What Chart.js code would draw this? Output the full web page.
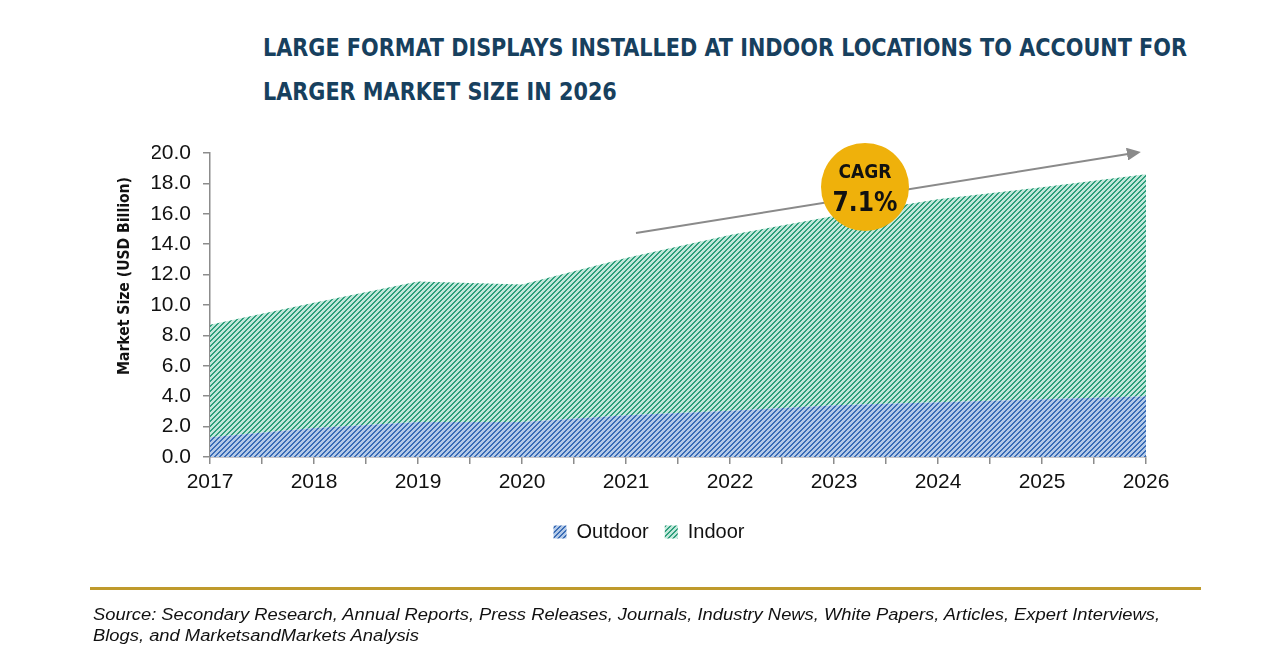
<!DOCTYPE html>
<html>
<head>
<meta charset="utf-8">
<script src="https://cdn.jsdelivr.net/npm/chart.js@4.4.1/dist/chart.umd.min.js"></script>
<style>
  html, body { margin: 0; padding: 0; background: #fff; }
  body { width: 1280px; height: 670px; position: relative; overflow: hidden; font-family: "Liberation Sans", Arial, sans-serif; }
  .line { position: absolute; white-space: nowrap; transform-origin: 0 0; }
  .ttl { left: 263px; font-family: "DejaVu Sans Condensed", "Liberation Sans", sans-serif; font-weight: bold; font-size: 25px; line-height: 30px; color: #17405e; }
  .src { left: 93px; font-family: "Liberation Sans", Arial, sans-serif; font-style: italic; font-size: 16px; line-height: 20px; color: #111; }
  #ytitle { position: absolute; left: 124px; top: 276px; white-space: nowrap; font-family: "DejaVu Sans Condensed", sans-serif; font-weight: bold; font-size: 16px; line-height: 20px; color: #111; }
  #wrap { position: absolute; left: 0; top: 0; width: 1280px; height: 552px; }
  #arrow { position: absolute; left: 0; top: 0; }
  #cagr { position: absolute; left: 821px; top: 143px; width: 88px; height: 88px; border-radius: 50%; background: #efb10b; text-align: center; font-family: "DejaVu Sans Condensed", sans-serif; font-weight: bold; color: #111; }
  #cagr .a { position: absolute; left: 0; right: 0; top: 17px; font-size: 19px; line-height: 22px; }
  #cagr .b { position: absolute; left: 0; right: 0; top: 44px; font-size: 26px; line-height: 30px; }
  #rule { position: absolute; left: 90px; top: 587px; width: 1111px; height: 3px; background: #bf9a2c; }
</style>
</head>
<body>
<div class="line ttl" id="t1" data-w="924" style="top:33px">LARGE FORMAT DISPLAYS INSTALLED AT INDOOR LOCATIONS TO ACCOUNT FOR</div>
<div class="line ttl" id="t2" data-ref="t1" style="top:77px">LARGER MARKET SIZE IN 2026</div>
<div id="wrap"><canvas id="c" width="1280" height="552"></canvas></div>
<div id="ytitle">Market Size (USD Billion)</div>
<svg id="arrow" width="1280" height="670">
  <defs>
    <marker id="ah" markerWidth="14" markerHeight="13" refX="1" refY="6.5" orient="auto" markerUnits="userSpaceOnUse">
      <path d="M0,0 L14,6.5 L0,13 z" fill="#8a8a8a"/>
    </marker>
  </defs>
  <line x1="636" y1="233" x2="1128" y2="154" stroke="#8a8a8a" stroke-width="2" marker-end="url(#ah)"/>
</svg>
<div id="cagr"><div class="a">CAGR</div><div class="b">7.1%</div></div>
<div id="rule"></div>
<div class="line src" id="s1" data-w="1067" style="top:605px">Source: Secondary Research, Annual Reports, Press Releases, Journals, Industry News, White Papers, Articles, Expert Interviews,</div>
<div class="line src" id="s2" data-ref="s1" style="top:626px">Blogs, and MarketsandMarkets Analysis</div>
<script>
const years = [2017, 2018, 2019, 2020, 2021, 2022, 2023, 2024, 2025, 2026];
const outdoor = [1.3, 1.9, 2.3, 2.3, 2.75, 3.05, 3.4, 3.6, 3.8, 4.0];
const indoor = [7.4, 8.25, 9.25, 9.05, 10.35, 11.55, 12.45, 13.35, 13.95, 14.6];
const yTicks = [0, 2, 4, 6, 8, 10, 12, 14, 16, 18, 20];

// fit text lines horizontally to reference widths
const scales = {};
document.querySelectorAll('.line[data-w]').forEach(el => {
  const k = parseFloat(el.dataset.w) / el.getBoundingClientRect().width;
  scales[el.id] = k;
  el.style.transform = 'scaleX(' + k + ')';
});
document.querySelectorAll('.line[data-ref]').forEach(el => {
  el.style.transform = 'scaleX(' + scales[el.dataset.ref] + ')';
});
// rotated y-axis title, centred on its anchor, fitted to 198px length
(function () {
  const el = document.getElementById('ytitle');
  const r = el.getBoundingClientRect();
  const k = 198 / r.width;
  el.style.left = (124 - r.width / 2) + 'px';
  el.style.top = (276 - r.height / 2) + 'px';
  el.style.transformOrigin = '50% 50%';
  el.style.transform = 'rotate(-90deg) scaleX(' + k + ')';
})();

function stripe(dark, light) {
  const n = 5;
  const c = document.createElement('canvas');
  c.width = n; c.height = n;
  const g = c.getContext('2d');
  for (let x = 0; x < n; x++) {
    for (let y = 0; y < n; y++) {
      g.fillStyle = ((x + y) % n) < 2 ? dark : light;
      g.fillRect(x, y, 1, 1);
    }
  }
  return g.createPattern(c, 'repeat');
}
const ctx = document.getElementById('c').getContext('2d');
const blueP = stripe('#3a6db6', '#b3c9e8');
const greenP = stripe('#2fa07c', '#c2e8db');

const toPts = arr => arr.map((v, i) => ({ x: years[i], y: v }));

new Chart(ctx, {
  type: 'line',
  data: {
    datasets: [
      { label: 'Outdoor', data: toPts(outdoor), backgroundColor: blueP, borderColor: 'rgba(0,0,0,0)', borderWidth: 0, pointRadius: 0, fill: 'origin', tension: 0 },
      { label: 'Indoor', data: toPts(indoor), backgroundColor: greenP, borderColor: 'rgba(0,0,0,0)', borderWidth: 0, pointRadius: 0, fill: '-1', tension: 0 }
    ]
  },
  options: {
    responsive: false,
    animation: false,
    layout: { padding: { left: 152, top: 153, right: 134, bottom: 0 } },
    plugins: {
      tooltip: { enabled: false },
      legend: {
        position: 'bottom',
        labels: {
          boxWidth: 13, boxHeight: 13, padding: 16,
          color: '#111',
          font: { family: '"Liberation Sans", Arial, sans-serif', size: 20 }
        }
      }
    },
    scales: {
      x: {
        type: 'linear',
        min: years[0], max: years[years.length - 1],
        afterFit: s => { s.height = 49; },
        border: { display: true, color: '#8c8c8c', width: 1.5 },
        grid: { drawOnChartArea: false, drawTicks: true, tickLength: 7, color: '#8c8c8c', lineWidth: 1.5 },
        ticks: {
          stepSize: 0.5, autoSkip: false, maxRotation: 0, padding: 6,
          color: '#111',
          font: { family: '"Liberation Sans", Arial, sans-serif', size: 21 },
          callback: v => Number.isInteger(v) ? String(v) : ''
        }
      },
      y: {
        stacked: true,
        min: 0, max: 20,
        afterFit: s => { s.width = 58; },
        afterBuildTicks: s => { s.ticks = yTicks.map(v => ({ value: v })); },
        border: { display: true, color: '#8c8c8c', width: 1.5 },
        grid: { drawOnChartArea: false, drawTicks: true, tickLength: 7, color: '#8c8c8c', lineWidth: 1.5 },
        title: { display: false },
        ticks: {
          padding: 12, color: '#111',
          font: { family: '"Liberation Sans", Arial, sans-serif', size: 21 },
          callback: v => v.toFixed(1)
        }
      }
    }
  }
});
</script>
</body>
</html>
